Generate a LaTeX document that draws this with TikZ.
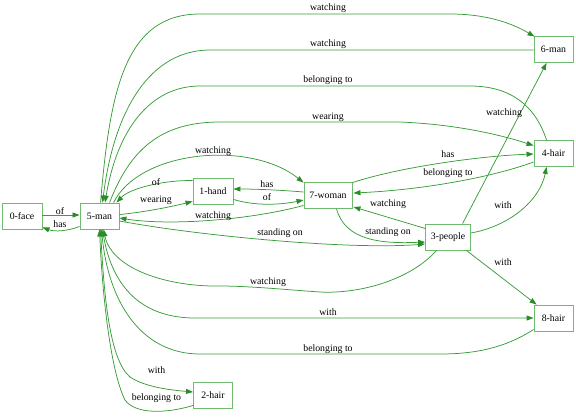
\documentclass[tikz,border=0pt]{standalone}
\usepackage{fontspec}
\setmainfont{Liberation Serif}
\usetikzlibrary{arrows.meta,calc}
\definecolor{edgec}{RGB}{56,156,56}
\definecolor{tipc}{RGB}{40,140,40}
\definecolor{boxc}{RGB}{110,186,110}
\begin{document}
\begin{tikzpicture}[x=1pt,y=-1pt,
  box/.style={draw=boxc,line width=0.9pt,minimum height=26pt,inner sep=0pt,font=\fontsize{9.8}{11}\selectfont},
  lbl/.style={inner sep=0pt,font=\fontsize{9.8}{11}\selectfont},
  edge/.style={draw=edgec,line width=0.75pt,-{Triangle[length=7pt,width=5pt,fill=tipc,color=tipc]}}]
\useasboundingbox (0,0) rectangle (576,416);
% nodes
\node[box,minimum width=40pt] (n0) at (22,216) {0-face};
\node[box,minimum width=39pt] (n5) at (99.5,216) {5-man};
\node[box,minimum width=40pt] (n1) at (213,191) {1-hand};
\node[box,minimum width=48pt] (n7) at (328,195.5) {7-woman};
\node[box,minimum width=45pt] (n3) at (448,237) {3-people};
\node[box,minimum width=39pt] (n4) at (553.5,153.5) {4-hair};
\node[box,minimum width=39pt] (n6) at (553.5,49.5) {6-man};
\node[box,minimum width=39pt] (n8) at (553.5,318) {8-hair};
\node[box,minimum width=39pt] (n2) at (213,395) {2-hair};
% edges
\draw[edge] ($(n0.east)+(0,-1)$) -- ($(n5.west)+(0,-1)$);
\draw[edge] ($(n5.south west)+(0,-3)$) .. controls (68,231) and (55,232) .. ($(n0.south east)+(0,-2)$);
\draw[edge] ($(n1.north west)+(0,3)$) .. controls (165,180) and (130,188) .. ($(n5.north west)+(37,0)$);
\draw[edge] ($(n5.north east)+(0,12)$) .. controls (145,212) and (170,207) .. ($(n1.south west)+(0,-3)$);
\draw[edge] ($(n7.west)+(0,-3.5)$) .. controls (280,190) and (255,189) .. ($(n1.east)+(0,-2)$);
\draw[edge] ($(n1.south east)+(0,-5)$) .. controls (255,206) and (280,205) .. ($(n7.west)+(0,4.5)$);
\draw[edge] ($(n5.north west)+(34,0)$) .. controls (140,150) and (250,140) .. ($(n7.north west)+(0,0.5)$);
\draw[edge] ($(n7.south west)+(0,-3.5)$) .. controls (250,220) and (170,226) .. ($(n5.east)+(0,2)$);
\draw[edge] ($(n5.east)+(0,5)$) .. controls (200,236) and (350,250) .. ($(n3.west)+(0,7)$);
\draw[edge] ($(n7.south west)+(33,0)$) .. controls (345,240) and (380,244) .. ($(n3.west)+(0,5)$);
\draw[edge] ($(n3.north west)+(0.5,5)$) -- ($(n7.south east)+(1,-2)$);
\draw[edge] ($(n7.north east)+(0,0.5)$) .. controls (400,167) and (480,156) .. ($(n4.west)+(0,0.5)$);
\draw[edge] ($(n4.west)+(0,8.5)$) .. controls (490,178) and (420,190) .. ($(n7.east)+(1,-2.5)$);
\draw[edge] ($(n3.east)+(0,-4)$) .. controls (510,226) and (540,200) .. ($(n4.south west)+(13,0)$);
\draw[edge] ($(n3.north west)+(37.5,0)$) -- ($(n6.south west)+(13,0)$);
\draw[edge] ($(n3.south east)+(-4.5,0)$) -- ($(n8.north west)+(3,0)$);
\draw[edge] ($(n3.south west)+(11.5,0)$) .. controls (410,280) and (360,294) .. (320,292)
   .. controls (290,290) and (250,286) .. (220,286)
   .. controls (170,287) and (112,270) .. ($(n5.south west)+(24,0)$);
\draw[edge] ($(n5.south west)+(23,0)$) .. controls (110,285) and (140,318) .. (195,318) -- (n8.west);
\draw[edge] ($(n8.south west)+(0,-2)$) .. controls (505,348) and (475,354) .. (440,354) -- (200,354)
   .. controls (140,354) and (108,300) .. ($(n5.south west)+(22,0)$);
\draw[edge] ($(n5.south west)+(21,0)$) .. controls (104,300) and (110,360) .. (130,377)
   .. controls (145,387) and (170,390) .. ($(n2.west)+(0,-3)$);
\draw[edge] ($(n2.south west)+(0,-3)$) .. controls (165,414) and (135,414) .. (125,400)
   .. controls (110,370) and (102,290) .. ($(n5.south west)+(20,0)$);
\draw[edge] ($(n5.north west)+(21,0)$) .. controls (110,90) and (125,14) .. (200,14) -- (450,14)
   .. controls (490,14) and (515,25) .. ($(n6.north west)+(1,0.5)$);
\draw[edge] ($(n6.west)+(0,0.5)$) -- (210,50) .. controls (150,50) and (114,110) .. ($(n5.north west)+(23,0)$);
\draw[edge] ($(n4.north west)+(13,0)$) .. controls (535,105) and (510,86) .. (470,86) -- (200,86)
   .. controls (150,86) and (117,130) .. ($(n5.north west)+(25.5,0)$);
\draw[edge] ($(n5.north west)+(30,0)$) .. controls (130,150) and (160,122) .. (220,122) -- (400,122)
   .. controls (450,124) and (495,133) .. ($(n4.north west)+(0,5.5)$);
% labels
\node[lbl] (l1) at (60,211) {of};
\node[lbl] (l2) at (60,224.5) {has};
\node[lbl] (l3) at (156,182.5) {of};
\node[lbl] (l4) at (156,200.5) {wearing};
\node[lbl] (l5) at (267,184.5) {has};
\node[lbl] (l6) at (267,197.5) {of};
\node[lbl] (l7) at (213,151.5) {watching};
\node[lbl] (l8) at (213,216) {watching};
\node[lbl] (l9) at (280,233.5) {standing on};
\node[lbl] (l10) at (388,232) {standing on};
\node[lbl] (l11) at (388,204.5) {watching};
\node[lbl] (l12) at (448,154) {has};
\node[lbl] (l13) at (448,173.5) {belonging to};
\node[lbl] (l14) at (503,205.5) {with};
\node[lbl] (l15) at (504,113.5) {watching};
\node[lbl] (l16) at (503,262.5) {with};
\node[lbl] (l17) at (268,282.5) {watching};
\node[lbl] (l18) at (328,312.5) {with};
\node[lbl] (l19) at (328,349) {belonging to};
\node[lbl] (l20) at (156.5,370.5) {with};
\node[lbl] (l21) at (156.5,398.5) {belonging to};
\node[lbl] (l22) at (328,8) {watching};
\node[lbl] (l23) at (328,44) {watching};
\node[lbl] (l24) at (328,80.5) {belonging to};
\node[lbl] (l25) at (328,117) {wearing};
\end{tikzpicture}
\end{document}
